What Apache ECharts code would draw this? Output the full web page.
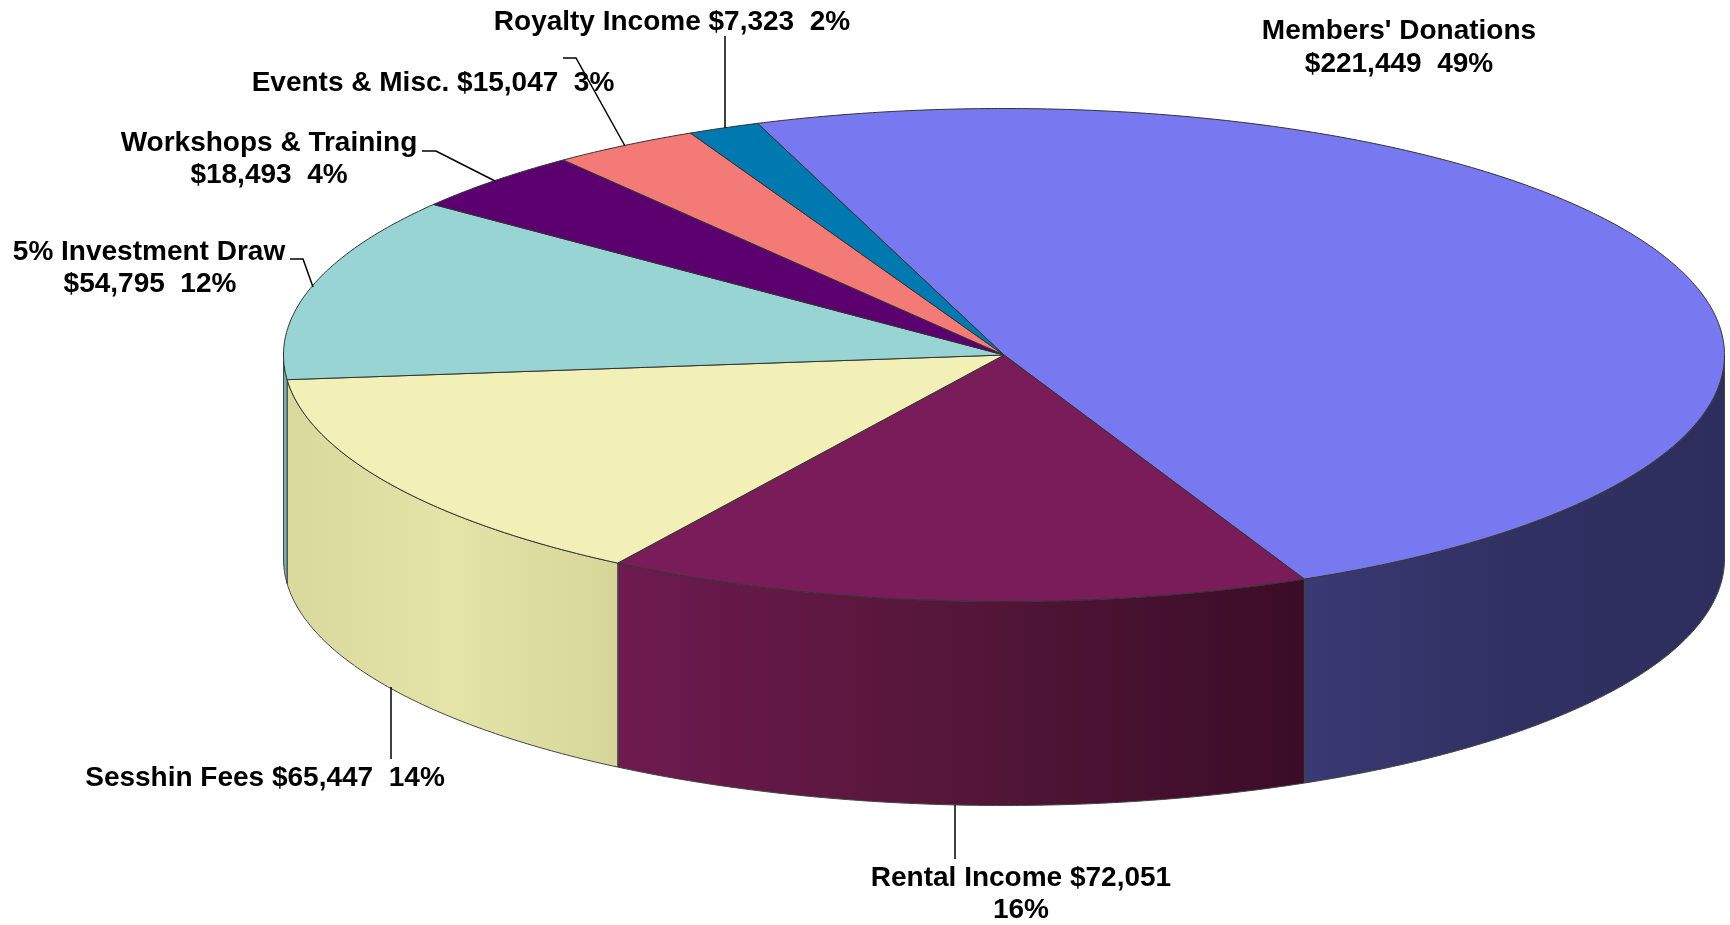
<!DOCTYPE html>
<html>
<head>
<meta charset="utf-8">
<title>Income pie</title>
<script src="https://cdn.jsdelivr.net/npm/echarts@6/dist/echarts.min.js"></script>
<style>
  html, body { margin: 0; padding: 0; background: #fff; }
  #chart { width: 1730px; height: 925px; }
</style>
</head>
<body>
<div id="chart"></div>
<script>
// slices, clockwise from the top left of the pie
const categories = ["Members' Donations", 'Rental Income', 'Sesshin Fees', '5% Investment Draw', 'Workshops & Training', 'Events & Misc.', 'Royalty Income'];
const amounts = [221449, 72051, 65447, 54795, 18493, 15047, 7323];
const percents = [49, 16, 14, 12, 4, 3, 2];

const topColors = ['#7878F0', '#7A1C5A', '#F2F0B6', '#98D4D4', '#5C0070', '#F47A78', '#0078B0'];
const sideColors = [
  ['#3A3A74', '#303062', '#2E2E5E'],
  ['#6E1A50', '#541638', '#3A0C28'],
  ['#D9D99E', '#E4E4A9', '#D6D69A'],
  ['#7AACAC', '#7AACAC', '#7AACAC'],
  ['#3A0048', '#3A0048', '#3A0048'],
  ['#A85250', '#A85250', '#A85250'],
  ['#005078', '#005078', '#005078']
];

// pie drawn as a tilted disc
const cx = 1004, cy = 355, rx = 720.5, ry = 246.5, depth = 204;
const startAngle = -20;

// where each label's lines sit: [which text, centre x, centre y]
const labelSpots = [
  [[0, 1399, 31], [1, 1399, 64]],
  [[0, 1021, 878], [2, 1021, 910]],
  [[3, 265, 778]],
  [[0, 149, 252], [1, 150, 284]],
  [[0, 269, 143], [1, 269, 175]],
  [[3, 433, 83]],
  [[3, 672, 22]]
];
const leaders = [
  null,
  [[955, 805], [955, 859]],
  [[391, 687], [391, 759]],
  [[290, 259], [303, 259], [313, 287]],
  [[422, 151], [436, 151], [495, 181]],
  [[563, 58], [576, 58], [625, 146]],
  [[725, 36], [725, 128]]
];

const total = amounts.reduce((a, b) => a + b, 0);

function sliceRange(i) {
  let before = 0;
  for (let k = 0; k < i; k++) before += amounts[k];
  return [startAngle + before / total * 360, startAngle + (before + amounts[i]) / total * 360];
}

function rimPoint(deg, drop) {
  const r = deg * Math.PI / 180;
  return [cx + rx * Math.sin(r), cy - ry * Math.cos(r) + (drop || 0)];
}

function arcPoints(from, to, drop) {
  const pts = [];
  const steps = Math.max(2, Math.ceil((to - from) * 2));
  for (let s = 0; s <= steps; s++) pts.push(rimPoint(from + (to - from) * s / steps, drop));
  return pts;
}

function renderSide(params) {
  const i = params.dataIndex;
  const range = sliceRange(i);
  // only the front half of the wall can be seen
  const from = Math.max(range[0], 90), to = Math.min(range[1], 270);
  if (to <= from) return { type: 'group', children: [] };
  const pts = arcPoints(from, to, 0).concat(arcPoints(from, to, depth).reverse());
  const c = sideColors[i];
  return {
    type: 'polygon',
    shape: { points: pts },
    style: {
      fill: new echarts.graphic.LinearGradient(0, 0, 1, 0, [
        { offset: 0, color: c[0] }, { offset: 0.5, color: c[1] }, { offset: 1, color: c[2] }
      ]),
      stroke: '#444', lineWidth: 1
    }
  };
}

function renderTop(params) {
  const i = params.dataIndex;
  const range = sliceRange(i);
  return {
    type: 'polygon',
    shape: { points: [[cx, cy]].concat(arcPoints(range[0], range[1], 0)) },
    style: { fill: topColors[i], stroke: '#333', lineWidth: 1, lineJoin: 'round' }
  };
}

function renderLabel(params) {
  const i = params.dataIndex;
  const money = '$' + amounts[i].toLocaleString('en-US');
  const pct = percents[i] + '%';
  const texts = [categories[i], money + '  ' + pct, pct, categories[i] + ' ' + money + '  ' + pct];
  if (i === 1) texts[0] = categories[i] + ' ' + money;
  const children = labelSpots[i].map(s => ({
    type: 'text',
    style: {
      text: texts[s[0]], x: s[1], y: s[2],
      align: 'center', verticalAlign: 'middle',
      font: 'bold 28px "Liberation Sans", Arial, sans-serif', fill: '#000'
    }
  }));
  if (leaders[i]) {
    children.push({
      type: 'polyline',
      shape: { points: leaders[i] },
      style: { fill: null, stroke: '#000', lineWidth: 1.5 }
    });
  }
  return { type: 'group', children };
}

const chart = echarts.init(document.getElementById('chart'), null, { renderer: 'canvas' });
const seriesBase = { type: 'custom', coordinateSystem: 'none', data: amounts, silent: true, animation: false };
chart.setOption({
  backgroundColor: '#fff',
  animation: false,
  series: [
    Object.assign({ name: 'side', renderItem: renderSide, z: 1 }, seriesBase),
    Object.assign({ name: 'top', renderItem: renderTop, z: 2 }, seriesBase),
    Object.assign({ name: 'label', renderItem: renderLabel, z: 3 }, seriesBase)
  ]
});
</script>
</body>
</html>
